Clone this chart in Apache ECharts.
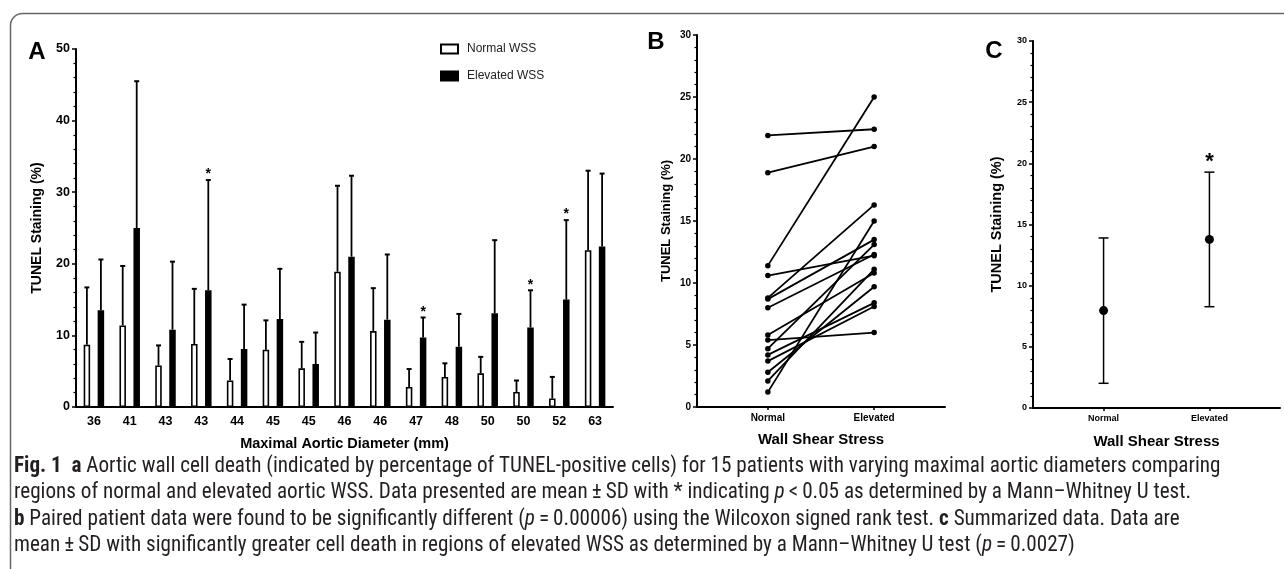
<!DOCTYPE html>
<html>
<head>
<meta charset="utf-8">
<script src="https://cdn.jsdelivr.net/npm/echarts@6/dist/echarts.min.js"></script>
<style>
  html, body { margin: 0; padding: 0; background: #fff; }
  #fig { width: 1284px; height: 569px; }
</style>
</head>
<body>
<div id="fig"></div>
<script>
// A: one group per patient (maximal aortic diameter, mm)
var diameters = ['36', '41', '43', '43', '44', '45', '45', '46', '46', '47', '48', '50', '50', '52', '63'];
var normalWSS = [8.7, 11.4, 5.8, 8.8, 3.7, 8.0, 5.4, 18.9, 10.6, 2.8, 4.2, 4.7, 2.1, 1.2, 21.9];
var normalSD = [8.0, 8.3, 2.8, 7.7, 3.0, 4.1, 3.7, 12.0, 6.0, 2.5, 1.9, 2.3, 1.6, 3.0, 11.1];
var elevatedWSS = [13.5, 25.0, 10.8, 16.3, 8.1, 12.3, 6.0, 21.0, 12.2, 9.7, 8.4, 13.1, 11.1, 15.0, 22.4];
var elevatedSD = [7.1, 20.5, 9.5, 15.4, 6.2, 7.0, 4.4, 11.3, 9.1, 2.8, 4.6, 10.2, 5.2, 11.1, 10.2];
var significant = [0, 0, 0, 1, 0, 0, 0, 0, 0, 1, 0, 0, 1, 1, 0];

// B / C: x axis, the blanks only pad the two groups away from the ends
var wssAxis = ['', '', 'Normal', '', '', 'Elevated', '', ''];
// C: summary mean +- SD
var summaryGroups = ['Normal', 'Elevated'];
var summaryMean = [7.96, 13.78];
var summarySD = [5.94, 5.50];
var summarySig = [0, 1];

var captionLines = [
  '{b|Fig. 1}  {b|a} Aortic wall cell death (indicated by percentage of TUNEL-positive cells) for 15 patients with varying maximal aortic diameters comparing',
  'regions of normal and elevated aortic WSS. Data presented are mean\u2009\u00b1\u2009SD with * indicating {i|p}\u2009<\u20090.05 as determined by a Mann\u2013Whitney U test.',
  '{b|b} Paired patient data were found to be significantly different ({i|p}\u2009=\u20090.00006) using the Wilcoxon signed rank test. {b|c} Summarized data. Data are',
  'mean\u2009\u00b1\u2009SD with significantly greater cell death in regions of elevated WSS as determined by a Mann\u2013Whitney U test ({i|p}\u2009=\u20090.0027)'
];

var FONT = 'Arial, "Liberation Sans", sans-serif';
var CAP_FONT = '"Liberation Sans Narrow", "Roboto Condensed", "DejaVu Sans Condensed", "Noto Sans", sans-serif';
var BAR_W = 6.5, BAR_GAP = 7.5;

// size the caption so the first line fills the frame width
var ctx = document.createElement('canvas').getContext('2d');
ctx.font = '100px ' + CAP_FONT;
var capSize = 100 * 1206 / ctx.measureText(captionLines[0].replace(/\{\w\|([^}]*)\}/g, '$1')).width;

function barError(sign) {
  var shift = (BAR_W + BAR_GAP) / 2;
  return function (params, api) {
    var base = api.coord([api.value(0), api.value(1)]);
    var tip = api.coord([api.value(0), api.value(2)]);
    var x = base[0] + sign * shift;
    var kids = [
      {type: 'line', shape: {x1: x, y1: base[1], x2: x, y2: tip[1]}, style: {stroke: '#000', lineWidth: 1.8}},
      {type: 'line', shape: {x1: x - 2.5, y1: tip[1], x2: x + 2.5, y2: tip[1]}, style: {stroke: '#000', lineWidth: 2}}
    ];
    if (api.value(3)) {
      kids.push({type: 'text', x: x, y: tip[1] - 5.5,
        style: {text: '*', font: 'bold 14px ' + FONT, fill: '#000', align: 'center', verticalAlign: 'middle'}});
    }
    return {type: 'group', children: kids};
  };
}

function meanSD(params, api) {
  var mid = api.coord([api.value(0), api.value(1)]);
  var lo = api.coord([api.value(0), api.value(1) - api.value(2)]);
  var hi = api.coord([api.value(0), api.value(1) + api.value(2)]);
  var x = mid[0];
  var kids = [
    {type: 'line', shape: {x1: x, y1: lo[1], x2: x, y2: hi[1]}, style: {stroke: '#000', lineWidth: 1.5}},
    {type: 'line', shape: {x1: x - 5, y1: lo[1], x2: x + 5, y2: lo[1]}, style: {stroke: '#000', lineWidth: 1.5}},
    {type: 'line', shape: {x1: x - 5, y1: hi[1], x2: x + 5, y2: hi[1]}, style: {stroke: '#000', lineWidth: 1.5}},
    {type: 'circle', shape: {cx: x, cy: mid[1], r: 4.5}, style: {fill: '#000'}}
  ];
  if (api.value(3)) {
    kids.push({type: 'text', x: x, y: hi[1] - 10,
      style: {text: '*', font: 'bold 22px ' + FONT, fill: '#000', align: 'center', verticalAlign: 'middle'}});
  }
  return {type: 'group', children: kids};
}

function valueAxis(grid, max, step, labelSize, name, nameSize, nameGap) {
  return {
    type: 'value', gridIndex: grid, min: 0, max: max, interval: step,
    name: name, nameLocation: 'middle', nameGap: nameGap,
    nameTextStyle: {fontFamily: FONT, fontWeight: 'bold', fontSize: nameSize, color: '#000'},
    axisLine: {show: true, lineStyle: {color: '#000', width: 2}},
    axisTick: {show: true, length: 4, lineStyle: {color: '#000', width: 1.5}},
    minorTick: {show: true, splitNumber: 5, length: 2.5, lineStyle: {color: '#000', width: 1.2}},
    splitLine: {show: false},
    axisLabel: {fontFamily: FONT, fontWeight: 'bold', fontSize: labelSize, color: '#000', margin: 6}
  };
}

function wssXAxis(grid, labelSize, nameGap) {
  var keep = function (i, v) { return v !== ''; };
  return {
    type: 'category', gridIndex: grid, data: wssAxis, boundaryGap: false,
    name: 'Wall Shear Stress', nameLocation: 'middle', nameGap: nameGap,
    nameTextStyle: {fontFamily: FONT, fontWeight: 'bold', fontSize: 15, color: '#000'},
    axisLine: {lineStyle: {color: '#000', width: 2}},
    axisTick: {show: true, interval: keep, length: 3, lineStyle: {color: '#000', width: 1.5}},
    axisLabel: {interval: keep, fontFamily: FONT, fontWeight: 'bold', fontSize: labelSize, color: '#000', margin: 6}
  };
}

var series = [
  {
    name: 'Normal WSS', type: 'bar', xAxisIndex: 0, yAxisIndex: 0,
    data: normalWSS, barWidth: BAR_W, barGap: (BAR_GAP / BAR_W * 100) + '%',
    itemStyle: {color: '#fff', borderColor: '#000', borderWidth: 1.6}
  },
  {
    name: 'Elevated WSS', type: 'bar', xAxisIndex: 0, yAxisIndex: 0,
    data: elevatedWSS, barWidth: BAR_W, barGap: (BAR_GAP / BAR_W * 100) + '%',
    itemStyle: {color: '#000', borderColor: '#000', borderWidth: 1.6}
  },
  {
    type: 'custom', xAxisIndex: 0, yAxisIndex: 0, renderItem: barError(-1), z: 1,
    data: normalWSS.map(function (v, i) { return [i, v, v + normalSD[i], 0]; })
  },
  {
    type: 'custom', xAxisIndex: 0, yAxisIndex: 0, renderItem: barError(1), z: 3,
    data: elevatedWSS.map(function (v, i) { return [i, v, v + elevatedSD[i], significant[i]]; })
  },
  {
    type: 'custom', xAxisIndex: 2, yAxisIndex: 2, renderItem: meanSD,
    data: summaryGroups.map(function (g, i) { return [g, summaryMean[i], summarySD[i], summarySig[i]]; })
  }
];

// B: one line per patient, normal -> elevated
normalWSS.forEach(function (v, i) {
  series.push({
    type: 'line', xAxisIndex: 1, yAxisIndex: 1,
    data: [['Normal', v], ['Elevated', elevatedWSS[i]]],
    symbol: 'circle', symbolSize: 5.5, showSymbol: true,
    lineStyle: {color: '#000', width: 1.8}, itemStyle: {color: '#000'}
  });
});

var graphics = [
  {type: 'rect', silent: true, shape: {x: 10.5, y: 13.5, width: 1400, height: 700, r: 12},
    style: {fill: 'none', stroke: '#666', lineWidth: 1.5}},
  {type: 'text', x: 37, y: 52, style: {text: 'A', font: 'bold 24px ' + FONT, fill: '#000', align: 'center', verticalAlign: 'middle'}},
  {type: 'text', x: 656, y: 42, style: {text: 'B', font: 'bold 24px ' + FONT, fill: '#000', align: 'center', verticalAlign: 'middle'}},
  {type: 'text', x: 994, y: 51, style: {text: 'C', font: 'bold 24px ' + FONT, fill: '#000', align: 'center', verticalAlign: 'middle'}}
];
captionLines.forEach(function (line, i) {
  graphics.push({
    type: 'text', x: 14, y: 467 + i * 26.2,
    style: {
      text: line, fontFamily: CAP_FONT, fontSize: capSize, fill: '#231f20',
      align: 'left', verticalAlign: 'middle',
      rich: {
        b: {fontFamily: CAP_FONT, fontSize: capSize, fontWeight: 'bold', fill: '#231f20'},
        i: {fontFamily: CAP_FONT, fontSize: capSize, fontStyle: 'italic', fill: '#231f20'}
      }
    }
  });
});

var chart = echarts.init(document.getElementById('fig'));
chart.setOption({
  animation: false,
  backgroundColor: '#fff',
  legend: {
    data: ['Normal WSS', 'Elevated WSS'], orient: 'vertical', left: 435, top: 38,
    icon: 'rect', itemWidth: 17, itemHeight: 9, itemGap: 15,
    textStyle: {fontFamily: FONT, fontSize: 12, color: '#222', padding: [0, 0, 0, 4]}
  },
  grid: [
    {left: 76, top: 49, width: 537, height: 358},
    {left: 697, top: 35, width: 248, height: 372},
    {left: 1033, top: 41, width: 247, height: 367}
  ],
  xAxis: [
    {
      type: 'category', gridIndex: 0, data: diameters,
      name: 'Maximal Aortic Diameter (mm)', nameLocation: 'middle', nameGap: 29,
      nameTextStyle: {fontFamily: FONT, fontWeight: 'bold', fontSize: 14.5, color: '#000'},
      axisLine: {lineStyle: {color: '#000', width: 2}},
      axisTick: {show: false},
      axisLabel: {interval: 0, fontFamily: FONT, fontWeight: 'bold', fontSize: 12.5, color: '#000', margin: 8}
    },
    wssXAxis(1, 10, 25),
    wssXAxis(2, 9, 26)
  ],
  yAxis: [
    valueAxis(0, 50, 10, 12.5, 'TUNEL Staining (%)', 14, 32),
    valueAxis(1, 30, 5, 10, 'TUNEL Staining (%)', 13, 24),
    valueAxis(2, 30, 5, 9, 'TUNEL Staining (%)', 14.5, 29)
  ],
  series: series,
  graphic: graphics
});
</script>
</body>
</html>
